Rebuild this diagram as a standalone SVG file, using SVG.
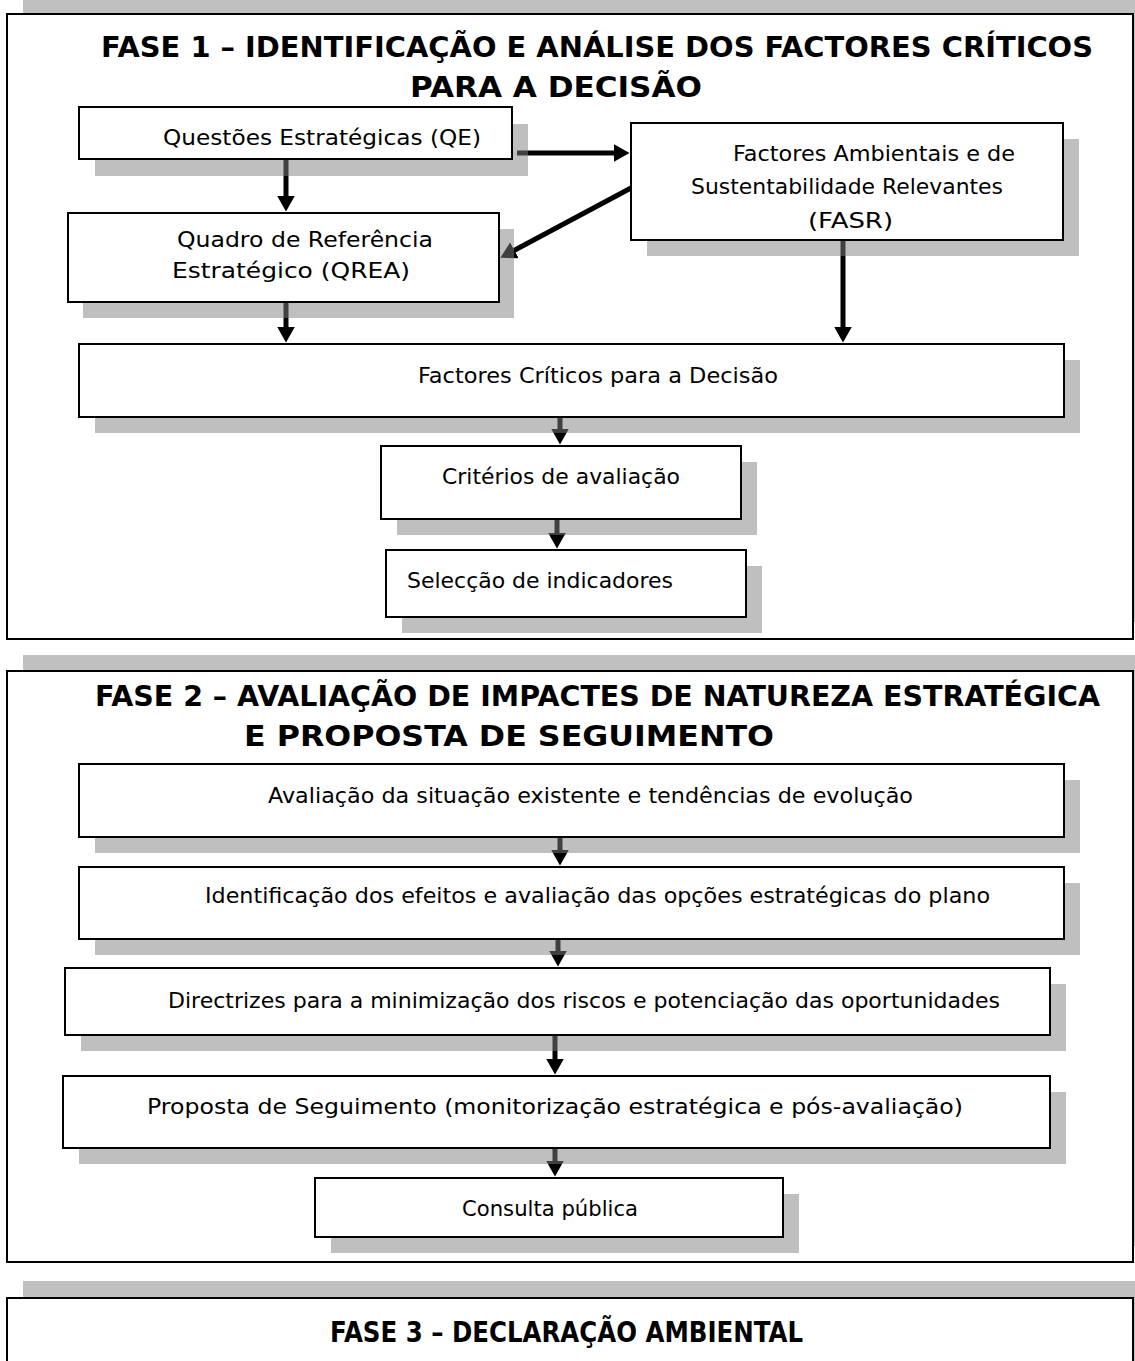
<svg xmlns="http://www.w3.org/2000/svg" width="1135" height="1361" viewBox="0 0 1135 1361">
<style>
.fshadow{fill:#c0c0c0}
.frame{fill:#fff;stroke:#000;stroke-width:2}
.shadow{fill:#808080;opacity:0.5}
.box{fill:#fff;stroke:#000;stroke-width:2}
.title{font-family:'DejaVu Sans','Liberation Sans',sans-serif;font-weight:bold;font-size:28px;fill:#000}
.lbl{font-family:'DejaVu Sans','Liberation Sans',sans-serif;font-size:21px;fill:#000}
.conn{stroke:#000;stroke-width:5;fill:none;marker-end:url(#ah)}
</style>
<defs>
<marker id="ah" markerUnits="userSpaceOnUse" markerWidth="16" markerHeight="18" viewBox="0 0 16 18" refX="0.5" refY="9" orient="auto">
<path d="M0,0 L16,9 L0,18 z" fill="#000"/>
</marker>
</defs>
<rect x="0" y="0" width="1135" height="1361" fill="#fff"/>

<g id="fase1">
<rect class="fshadow" x="23" y="-3" width="1126" height="625"/>
<rect class="frame" x="7" y="14" width="1126" height="625"/>
<text class="title" x="101" y="57" textLength="992" lengthAdjust="spacingAndGlyphs">FASE 1 – IDENTIFICAÇÃO E ANÁLISE DOS FACTORES CRÍTICOS</text>
<text class="title" x="410" y="97" textLength="292" lengthAdjust="spacingAndGlyphs">PARA A DECISÃO</text>
</g>
<g id="fase2">
<rect class="fshadow" x="23" y="655" width="1126" height="591"/>
<rect class="frame" x="7" y="671" width="1126" height="591"/>
<text class="title" x="95" y="706" textLength="1005" lengthAdjust="spacingAndGlyphs">FASE 2 – AVALIAÇÃO DE IMPACTES DE NATUREZA ESTRATÉGICA</text>
<text class="title" x="244" y="746" textLength="530" lengthAdjust="spacingAndGlyphs">E PROPOSTA DE SEGUIMENTO</text>
</g>
<g id="fase3">
<rect class="fshadow" x="23" y="1281" width="1126" height="120"/>
<rect class="frame" x="7" y="1298" width="1126" height="120"/>
<text class="title" x="330" y="1342" textLength="473" lengthAdjust="spacingAndGlyphs">FASE 3 – DECLARAÇÃO AMBIENTAL</text>
</g>

<g id="connectors">
<line class="conn" x1="286" y1="159" x2="286" y2="196"/>
<line class="conn" x1="517" y1="153" x2="614" y2="153"/>
<line class="conn" x1="631" y1="188" x2="514" y2="250.5"/>
<line class="conn" x1="286" y1="302" x2="286" y2="327"/>
<line class="conn" x1="843" y1="240" x2="843" y2="327"/>
<line class="conn" x1="560" y1="417" x2="560" y2="429"/>
<line class="conn" x1="557" y1="519" x2="557" y2="533"/>
<line class="conn" x1="560" y1="837" x2="560" y2="850"/>
<line class="conn" x1="558" y1="939" x2="558" y2="951"/>
<line class="conn" x1="555" y1="1035" x2="555" y2="1059"/>
<line class="conn" x1="555" y1="1148" x2="555" y2="1161"/>
</g>

<g id="qe">
<rect class="shadow" x="95" y="124" width="433" height="52"/>
<rect class="box" x="79" y="107" width="433" height="52"/>
<text class="lbl" x="163" y="145" textLength="318" lengthAdjust="spacingAndGlyphs">Questões Estratégicas (QE)</text>
</g>
<g id="fasr">
<rect class="shadow" x="647" y="139" width="432" height="117"/>
<rect class="box" x="631" y="123" width="432" height="117"/>
<text class="lbl" x="733" y="161" textLength="282" lengthAdjust="spacingAndGlyphs">Factores Ambientais e de</text>
<text class="lbl" x="691" y="194" textLength="312" lengthAdjust="spacingAndGlyphs">Sustentabilidade Relevantes</text>
<text class="lbl" x="808" y="228" textLength="85" lengthAdjust="spacingAndGlyphs">(FASR)</text>
</g>
<g id="qrea">
<rect class="shadow" x="83" y="229" width="431" height="89"/>
<rect class="box" x="68" y="213" width="431" height="89"/>
<text class="lbl" x="177" y="247" textLength="256" lengthAdjust="spacingAndGlyphs">Quadro de Referência</text>
<text class="lbl" x="172" y="278" textLength="238" lengthAdjust="spacingAndGlyphs">Estratégico (QREA)</text>
</g>
<g id="fcd">
<rect class="shadow" x="95" y="360" width="985" height="73"/>
<rect class="box" x="79" y="344" width="985" height="73"/>
<text class="lbl" x="418" y="383" textLength="360" lengthAdjust="spacingAndGlyphs">Factores Críticos para a Decisão</text>
</g>
<g id="criterios">
<rect class="shadow" x="397" y="462" width="360" height="73"/>
<rect class="box" x="381" y="446" width="360" height="73"/>
<text class="lbl" x="442" y="484" textLength="238" lengthAdjust="spacingAndGlyphs">Critérios de avaliação</text>
</g>
<g id="seleccao">
<rect class="shadow" x="402" y="566" width="360" height="67"/>
<rect class="box" x="386" y="550" width="360" height="67"/>
<text class="lbl" x="407" y="588" textLength="266" lengthAdjust="spacingAndGlyphs">Selecção de indicadores</text>
</g>

<g id="avaliacao">
<rect class="shadow" x="95" y="780" width="985" height="73"/>
<rect class="box" x="79" y="764" width="985" height="73"/>
<text class="lbl" x="268" y="803" textLength="645" lengthAdjust="spacingAndGlyphs">Avaliação da situação existente e tendências de evolução</text>
</g>
<g id="identificacao">
<rect class="shadow" x="95" y="883" width="985" height="72"/>
<rect class="box" x="79" y="867" width="985" height="72"/>
<text class="lbl" x="205" y="903" textLength="785" lengthAdjust="spacingAndGlyphs">Identificação dos efeitos e avaliação das opções estratégicas do plano</text>
</g>
<g id="directrizes">
<rect class="shadow" x="81" y="984" width="985" height="67"/>
<rect class="box" x="65" y="968" width="985" height="67"/>
<text class="lbl" x="168" y="1008" textLength="832" lengthAdjust="spacingAndGlyphs">Directrizes para a minimização dos riscos e potenciação das oportunidades</text>
</g>
<g id="proposta">
<rect class="shadow" x="79" y="1092" width="987" height="72"/>
<rect class="box" x="63" y="1076" width="987" height="72"/>
<text class="lbl" x="147" y="1114" textLength="816" lengthAdjust="spacingAndGlyphs">Proposta de Seguimento (monitorização estratégica e pós-avaliação)</text>
</g>
<g id="consulta">
<rect class="shadow" x="331" y="1194" width="468" height="59"/>
<rect class="box" x="315" y="1178" width="468" height="59"/>
<text class="lbl" x="462" y="1216" textLength="176" lengthAdjust="spacingAndGlyphs">Consulta pública</text>
</g>
</svg>
